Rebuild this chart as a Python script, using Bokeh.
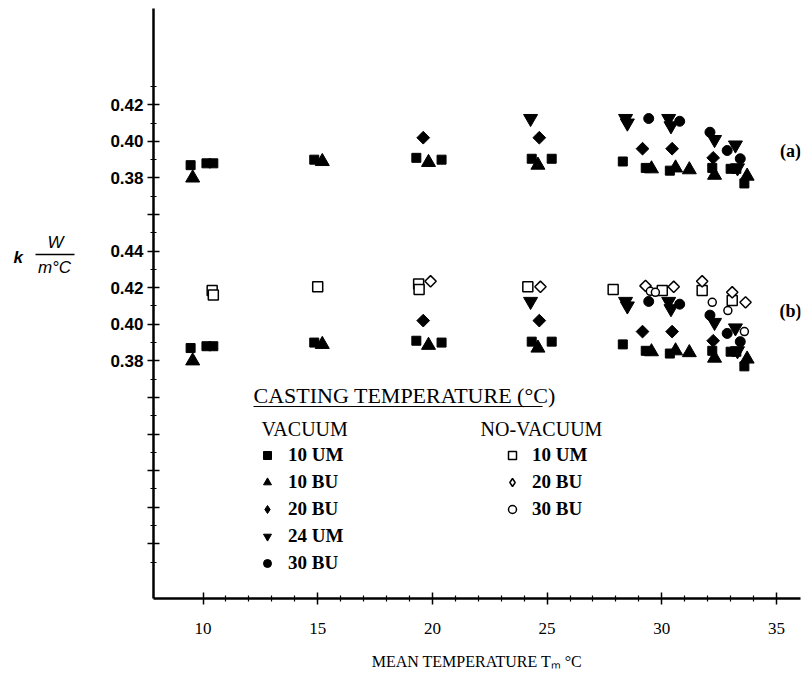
from bokeh.plotting import figure
from bokeh.layouts import row
from bokeh.models import (ColumnDataSource, FixedTicker, Label, Legend,
                          LegendItem, Arrow, Range1d)
from bokeh.embed import file_html
from bokeh.resources import INLINE
import math

# ---------------- data ----------------
# vacuum series (same data drawn in panel (a) and panel (b))
vac_10um_T = [9.46, 10.15, 10.45, 14.85, 19.3, 20.4, 24.33, 25.2, 28.3, 29.3, 30.35, 32.2, 33.0, 33.25, 33.6]
vac_10um_k = [0.387, 0.388, 0.388, 0.390, 0.391, 0.390, 0.3905, 0.3905, 0.389, 0.3855, 0.384, 0.3855, 0.385, 0.385, 0.377]
vac_10bu_T = [9.55, 15.2, 19.83, 24.6, 29.55, 30.6, 31.2, 32.3, 33.72]
vac_10bu_k = [0.380, 0.389, 0.3885, 0.387, 0.385, 0.3855, 0.3845, 0.3815, 0.381]
vac_20bu_T = [19.6, 24.66, 29.16, 30.45, 32.24]
vac_20bu_k = [0.402, 0.402, 0.396, 0.396, 0.391]
vac_24um_T = [24.28, 28.42, 28.5, 30.3, 30.4, 32.3, 33.21, 33.3]
vac_24um_k = [0.4125, 0.4125, 0.410, 0.4125, 0.4085, 0.401, 0.398, 0.3855]
vac_30bu_T = [29.43, 30.78, 32.1, 32.85, 33.42]
vac_30bu_k = [0.4125, 0.411, 0.405, 0.395, 0.3905]
# no-vacuum series (panel (b) only)
nv_10um_T = [10.4, 10.45, 15.0, 19.4, 19.42, 24.16, 27.88, 30.02, 31.76, 33.07]
nv_10um_k = [0.4185, 0.416, 0.4205, 0.422, 0.419, 0.4205, 0.419, 0.4185, 0.4185, 0.413]
nv_20bu_T = [19.92, 24.71, 29.29, 30.52, 31.76, 33.07, 33.65]
nv_20bu_k = [0.4235, 0.4205, 0.421, 0.4205, 0.4235, 0.4175, 0.412]
nv_30bu_T = [29.5, 29.72, 32.2, 32.88, 33.6]
nv_30bu_k = [0.418, 0.4175, 0.412, 0.4075, 0.396]

x_major = [10, 15, 20, 25, 30, 35]
x_minor = [11, 12, 13, 14, 16, 17, 18, 19, 21, 22, 23, 24, 26, 27, 28, 29, 31, 32, 33, 34]
# the vertical axis is in hundredths; panel (a) is shifted up by 0.10
y_major = [28, 30, 32, 34, 36, 38, 40, 42, 44, 46, 48, 50, 52]
y_minor = [27, 29, 31, 33, 35, 37, 39, 41, 43, 45, 47, 49, 51, 53]
y_labels = {38: "0.38", 40: "0.40", 42: "0.42", 44: "0.44",
            48: "0.38", 50: "0.40", 52: "0.42"}
SHIFT_A = 10
SHIFT_B = 0

# ---------------- layout helpers (page pixel -> data) ----------------
def X(px):
    return 10 + (px - 202.5) / 22.94

def Y(py):
    return 52 - (py - 104.3) / 18.29

LEFT_W = 100
x_lo, x_hi = X(153), X(800)
y_rng = Range1d(Y(598), Y(8))

p = figure(width=809 - LEFT_W, height=684, x_range=Range1d(x_lo, x_hi),
           y_range=y_rng, output_backend="svg",
           toolbar_location=None, min_border_left=153 - LEFT_W, min_border_right=9,
           min_border_top=8, min_border_bottom=86)
p.grid.visible = False
p.outline_line_color = None

def src(T, k, both=True):
    if both:
        xs = list(T) + list(T)
        ys = [v * 100 + SHIFT_A for v in k] + [v * 100 + SHIFT_B for v in k]
    else:
        xs = list(T)
        ys = [v * 100 + SHIFT_B for v in k]
    return ColumnDataSource(dict(x=xs, y=ys))

s3 = src(vac_20bu_T, vac_20bu_k)
s7 = src(nv_20bu_T, nv_20bu_k, both=False)

r1 = p.scatter("x", "y", source=src(vac_10um_T, vac_10um_k), marker="square",
               size=9, color="black")
r2 = p.scatter("x", "y", source=src(vac_10bu_T, vac_10bu_k), marker="triangle",
               size=14, color="black")
r3 = p.scatter("x", "y", source=s3, marker="square",
               angle=math.pi / 4, size=9, color="black")
r4 = p.scatter("x", "y", source=src(vac_24um_T, vac_24um_k), marker="inverted_triangle",
               size=14, color="black")
r5 = p.scatter("x", "y", source=src(vac_30bu_T, vac_30bu_k), marker="circle",
               size=10, color="black")
r6 = p.scatter("x", "y", source=src(nv_10um_T, nv_10um_k, both=False), marker="square",
               size=10, line_color="black", fill_color="white", line_width=1.5)
r7 = p.scatter("x", "y", source=s7, marker="square",
               angle=math.pi / 4, size=8, line_color="black", fill_color="white", line_width=1.5)
r8 = p.scatter("x", "y", source=src(nv_30bu_T, nv_30bu_k, both=False), marker="circle",
               size=8, line_color="black", fill_color="white", line_width=1.5)
# legend swatches for the diamonds (the legend does not rotate markers)
d_fill = p.scatter("x", "y", source=s3, marker="diamond", size=12, color="black",
                   visible=False)
d_open = p.scatter("x", "y", source=s7, marker="diamond", size=12, line_color="black",
                   fill_color="white", line_width=1.5, visible=False)

# ---------------- axes ----------------
for ax in (p.xaxis[0], p.yaxis[0]):
    ax.axis_line_width = 2.5
    ax.axis_line_color = "black"
    ax.major_tick_line_width = 1.5
    ax.minor_tick_line_width = 1.2
    ax.major_tick_line_color = "black"
    ax.minor_tick_line_color = "black"
    ax.major_tick_in = 6
    ax.major_tick_out = 6
    ax.minor_tick_in = 3
    ax.minor_tick_out = 3

p.xaxis.ticker = FixedTicker(ticks=x_major, minor_ticks=x_minor)
p.xaxis.major_label_text_font = "Liberation Serif"
p.xaxis.major_label_text_font_size = "17px"
p.xaxis.major_label_text_color = "black"
p.xaxis.major_label_standoff = 18
p.xaxis.axis_label = "MEAN TEMPERATURE T\u2098 \u00b0C"
p.xaxis.axis_label_text_font = "Liberation Serif"
p.xaxis.axis_label_text_font_style = "normal"
p.xaxis.axis_label_text_font_size = "16px"
p.xaxis.axis_label_text_color = "black"
p.xaxis.axis_label_standoff = 16

p.yaxis.ticker = FixedTicker(ticks=y_major, minor_ticks=y_minor)
p.yaxis.major_label_overrides = {t: y_labels.get(t, "") for t in y_major}
p.yaxis.major_label_text_font = "Liberation Sans"
p.yaxis.major_label_text_font_style = "bold"
p.yaxis.major_label_text_font_size = "17px"
p.yaxis.major_label_text_color = "black"
p.yaxis.major_label_standoff = 4

def lab(fig, x, y, text, font="Liberation Serif", size="17px", style="normal", align="left"):
    fig.add_layout(Label(x=x, y=y, text=text, text_font=font, text_font_size=size,
                         text_font_style=style, text_align=align, text_baseline="middle",
                         text_color="black"))

# panel tags
lab(p, X(790), Y(150), "(a)", size="18px", style="bold", align="center")
lab(p, X(790), Y(310), "(b)", size="18px", style="bold", align="center")

# ---------------- legend ----------------
lab(p, X(253), Y(395), "CASTING TEMPERATURE (\u00b0C)", size="22px")
p.add_layout(Arrow(x_start=X(253), y_start=Y(406), x_end=X(542), y_end=Y(406),
                   start=None, end=None, line_width=1.2, line_color="black"))
lab(p, X(261), Y(428), "VACUUM", size="20px")
lab(p, X(480), Y(428), "NO-VACUUM", size="20px")

def make_legend(items, loc, standoff):
    return Legend(items=items, location=loc, orientation="vertical",
                  glyph_width=20, glyph_height=22, label_height=22, spacing=5,
                  label_standoff=standoff, padding=0, margin=0,
                  border_line_color=None, background_fill_alpha=0,
                  label_text_font="Liberation Serif", label_text_font_size="19px",
                  label_text_font_style="bold", label_text_color="black")

leg1 = make_legend([LegendItem(label="10 UM", renderers=[r1]),
                    LegendItem(label="10 BU", renderers=[r2]),
                    LegendItem(label="20 BU", renderers=[d_fill]),
                    LegendItem(label="24 UM", renderers=[r4]),
                    LegendItem(label="30 BU", renderers=[r5])], (104, 24), 11)
leg2 = make_legend([LegendItem(label="10 UM", renderers=[r6]),
                    LegendItem(label="20 BU", renderers=[d_open]),
                    LegendItem(label="30 BU", renderers=[r8])], (349, 78), 10)
p.add_layout(leg1)
p.add_layout(leg2)

# ---------------- quantity label  k  W / m°C  (left strip) ----------------
lf = figure(width=LEFT_W, height=684, x_range=Range1d(0, LEFT_W), y_range=y_rng,
            output_backend="svg", toolbar_location=None, min_border_left=0,
            min_border_right=0, min_border_top=8, min_border_bottom=86)
lf.axis.visible = False
lf.grid.visible = False
lf.outline_line_color = None
lab(lf, 13, Y(257), "k", font="Liberation Sans", size="17px", style="bold italic")
lab(lf, 55, Y(242), "W", font="Liberation Sans", size="17px", style="italic", align="center")
lab(lf, 54, Y(267), "m\u00b0C", font="Liberation Sans", size="17px", style="italic", align="center")
lf.add_layout(Arrow(x_start=35, y_start=Y(254), x_end=74, y_end=Y(254),
                    start=None, end=None, line_width=1.5, line_color="black"))

layout = row(lf, p, spacing=0)
open("out.html", "w").write(file_html(layout, INLINE))
